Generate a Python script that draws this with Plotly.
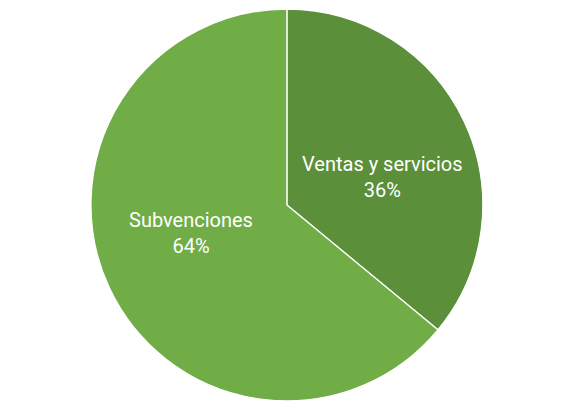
import math
import plotly.graph_objects as go

etiquetas = ['Ventas y servicios', 'Subvenciones']
valores = [36, 64]
colores = ['#5b8f3a', '#70ad47']

W, H = 568, 408
dom_x = [0, 0.982]
dom_y = [0.037, 0.9975]

fig = go.Figure(go.Pie(
    labels=etiquetas,
    values=valores,
    sort=False,
    direction='clockwise',
    rotation=0,
    marker=dict(colors=colores, line=dict(color='white', width=1.3)),
    textinfo='none',
    domain=dict(x=dom_x, y=dom_y),
    showlegend=False,
))

# etiquetas a mano, estilo Excel (mas cerca del eje horizontal)
cx = (dom_x[0] + dom_x[1]) / 2 * W
cy = (dom_y[0] + dom_y[1]) / 2 * H
radio = (dom_y[1] - dom_y[0]) * H / 2
total = sum(valores)
acum = 0
for et, v in zip(etiquetas, valores):
    ang = math.radians((acum + v / 2) / total * 360)
    acum += v
    px = cx + 0.54 * radio * math.sin(ang)
    py = cy + 0.54 * radio * math.cos(ang) * 0.62
    fig.add_annotation(
        x=px / W, y=py / H, xref='paper', yref='paper',
        xanchor='center', yanchor='middle',
        text=f'{et}<br>{round(v / total * 100)}%',
        showarrow=False,
        font=dict(family='Roboto', size=20, color='white'),
    )

fig.update_layout(
    width=W, height=H,
    margin=dict(l=0, r=0, t=0, b=0),
    paper_bgcolor='white',
)

fig.write_html("out.html")
